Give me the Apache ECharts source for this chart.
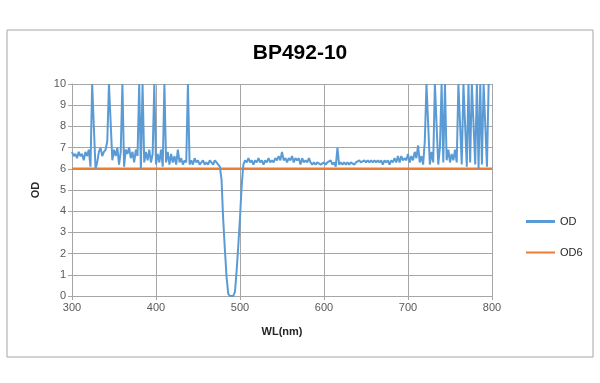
<!DOCTYPE html>
<html>
<head>
<meta charset="utf-8">
<script src="https://cdn.jsdelivr.net/npm/echarts@6/dist/echarts.min.js"></script>
<style>html,body{margin:0;padding:0;background:#fff;}#c{width:600px;height:383px;}</style>
</head>
<body>
<div id="c"></div>
<script>
// Wavelength sampling: 300..800 nm every 2 nm
const wlStart = 300, wlStep = 2, wlEnd = 800;
// OD values, by segment
const od300to440 = [6.8,6.6,6.7,6.5,6.8,6.6,6.7,6.4,6.8,6.6,
  6.9,6.1,10,10,6.0,6.3,6.8,7.0,6.6,6.8,
  6.9,7.3,10,10,6.4,6.9,6.6,7.0,6.2,6.8,
  10,6.1,6.9,6.7,7.0,6.5,6.8,6.3,6.9,6.6,
  10,6.0,10,6.3,6.8,6.4,6.9,6.3,6.7,10,
  6.2,6.7,6.3,6.9,6.1,10,6.3,6.8,6.2,6.7,
  6.3,6.6,6.2,6.9,6.3,6.5,6.2,6.4,6.3,10,
  6.2];
const od442to474 = [6.4,6.2,6.5,6.3,6.4,6.2,6.3,6.4,6.2,6.3,6.2,6.4,6.3,6.2,6.4,6.3,6.2];
const od476to504 = [6.1,5.5,3.6,2.2,0.9,0.1,0,0,0,0.2,1.2,2.4,3.7,5.2,6.2];
const od506to700 = [6.4,6.3,6.5,6.3,6.4,6.2,6.4,6.3,6.5,6.3,
  6.4,6.2,6.4,6.3,6.5,6.3,6.4,6.3,6.5,6.4,
  6.6,6.4,6.8,6.4,6.5,6.3,6.5,6.4,6.6,6.3,
  6.5,6.4,6.5,6.2,6.5,6.3,6.4,6.3,6.5,6.3,
  6.2,6.3,6.2,6.3,6.3,6.2,6.2,6.3,6.2,6.3,
  6.3,6.4,6.2,6.3,6.1,7.0,6.2,6.3,6.2,6.3,
  6.2,6.3,6.2,6.3,6.3,6.2,6.3,6.3,6.4,6.3,
  6.3,6.4,6.3,6.4,6.3,6.4,6.3,6.4,6.3,6.4,
  6.3,6.4,6.2,6.4,6.3,6.4,6.2,6.4,6.3,6.5,
  6.3,6.6,6.3,6.6,6.4,6.5];
const od702to800 = [6.4,6.7,6.3,6.6,6.4,6.8,6.5,7.1,6.3,6.6,
  6.2,7.3,10,10,6.2,6.8,6.3,10,10,6.2,
  7.0,10,6.3,10,6.4,6.9,6.3,6.7,6.4,6.9,
  6.3,10,10,6.2,10,10,6.1,10,6.3,10,
  10,6.2,10,6.0,10,6.2,10,10,6.1,10];
const od6Level = 6;

const odValues = [].concat(od300to440, od442to474, od476to504, od506to700, od702to800);
const odData = odValues.map((v, i) => [wlStart + i * wlStep, v]);
const od6Data = [[wlStart, od6Level], [wlEnd, od6Level]];

const chart = echarts.init(document.getElementById('c'), null, {renderer: 'canvas'});
const tickColor = '#595959';
const gridColor = '#A6A6A6';
chart.setOption({
  animation: false,
  backgroundColor: '#fff',
  title: {
    text: 'BP492-10',
    left: 'center',
    top: 38,
    textStyle: {fontFamily: 'Liberation Sans', fontWeight: 'bold', fontSize: 21, color: '#000'}
  },
  graphic: [{
    type: 'rect', shape: {x: 7, y: 30, width: 586, height: 327},
    style: {fill: 'none', stroke: '#A6A6A6', lineWidth: 1}, silent: true, z: -1
  }],
  legend: {
    orient: 'vertical',
    left: 521, top: 211,
    itemWidth: 29, itemHeight: 14, itemGap: 20,
    textStyle: {fontFamily: 'Liberation Sans', fontSize: 11, color: '#262626', padding: [0, 0, 0, 0]},
    data: [
      {name: 'OD', icon: 'path://M0,5.5 L29,5.5 L29,8.5 L0,8.5 Z'},
      {name: 'OD6', icon: 'path://M0,6 L29,6 L29,8 L0,8 Z'}
    ]
  },
  grid: {left: 72, right: 108, top: 84, bottom: 87, containLabel: false},
  xAxis: {
    type: 'value', min: 300, max: 800, interval: 100,
    name: 'WL(nm)', nameLocation: 'middle', nameGap: 30,
    nameTextStyle: {fontFamily: 'Liberation Sans', fontWeight: 'bold', fontSize: 11, color: '#262626'},
    axisLine: {show: true, lineStyle: {color: gridColor}},
    axisTick: {show: true, length: 4, lineStyle: {color: gridColor}},
    axisLabel: {fontFamily: 'Liberation Sans', fontSize: 11, color: tickColor, margin: 6},
    splitLine: {show: true, lineStyle: {color: gridColor, width: 1}}
  },
  yAxis: {
    type: 'value', min: 0, max: 10, interval: 1,
    name: 'OD', nameLocation: 'middle', nameGap: 31, nameRotate: 90,
    nameTextStyle: {fontFamily: 'Liberation Sans', fontWeight: 'bold', fontSize: 11, color: '#262626'},
    axisLine: {show: true, lineStyle: {color: gridColor}},
    axisTick: {show: true, length: 4, lineStyle: {color: gridColor}},
    axisLabel: {fontFamily: 'Liberation Sans', fontSize: 11, color: tickColor, margin: 6},
    splitLine: {show: true, lineStyle: {color: gridColor, width: 1}}
  },
  series: [{
    name: 'OD', type: 'line', data: odData, showSymbol: false, symbol: 'none',
    lineStyle: {color: '#5B9BD5', width: 2}, itemStyle: {color: '#5B9BD5'}, z: 3
  }, {
    name: 'OD6', type: 'line', data: od6Data, showSymbol: false, symbol: 'none',
    lineStyle: {color: '#ED7D31', width: 2.5}, itemStyle: {color: '#ED7D31'}, z: 2
  }]
});
</script>
</body>
</html>
